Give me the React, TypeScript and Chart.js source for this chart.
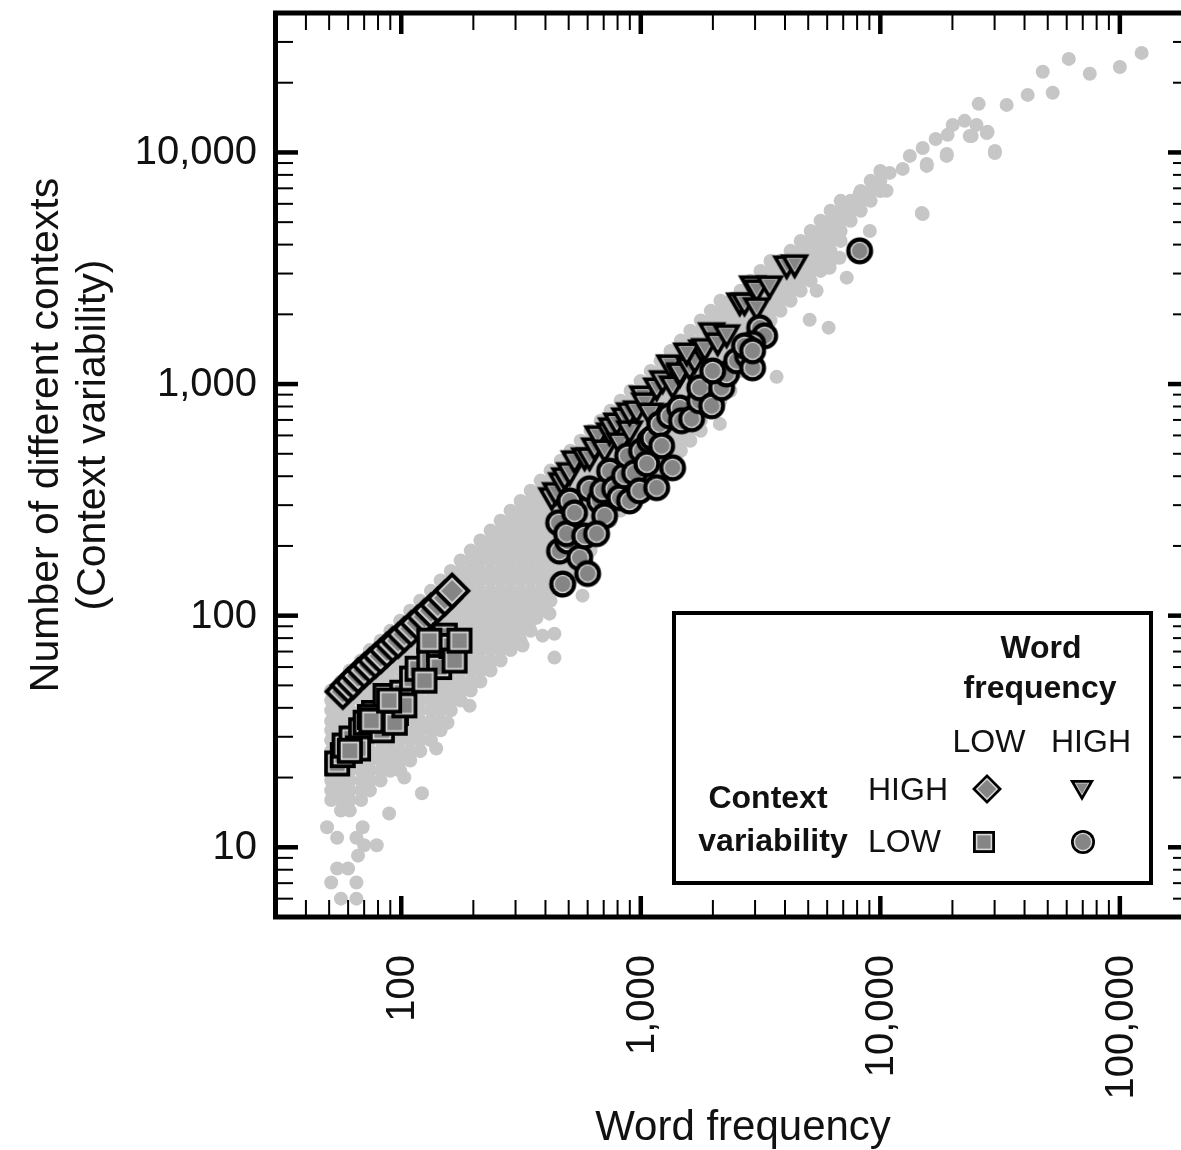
import React, { useEffect, useRef } from 'react';
import { Chart, registerables } from 'chart.js';

Chart.register(...registerables);

// ---------- axes ----------
const xRange = [30, 180000];
const yRange = [5, 40000];
const xMajorTicks = [100, 1000, 10000, 100000];
const xTickLabels = ['100', '1,000', '10,000', '100,000'];
const xMinorTicks = [40, 50, 60, 70, 80, 90, 200, 300, 400, 500, 600, 700, 800, 900, 2000, 3000, 4000, 5000, 6000, 7000, 8000, 9000, 20000, 30000, 40000, 50000, 60000, 70000, 80000, 90000];
const yMajorTicks = [10, 100, 1000, 10000];
const yTickLabels = ['10', '100', '1,000', '10,000'];
const yMinorTicks = [6, 7, 8, 9, 20, 30, 40, 50, 60, 70, 80, 90, 200, 300, 400, 500, 600, 700, 800, 900, 2000, 3000, 4000, 5000, 6000, 7000, 8000, 9000, 20000, 30000];
const xAxisTitle = 'Word frequency';
const yAxisTitleLines = ['Number of different contexts', '(Context variability)'];

// ---------- legend texts ----------
const legendHeader = ['Word', 'frequency'];
const legendColumns = ['LOW', 'HIGH'];
const legendRowTitle = ['Context', 'variability'];
const legendRows = ['HIGH', 'LOW'];

// ---------- featured words ----------
// HIGH context variability, LOW word frequency (diamonds)
const hcLowX = [57, 60, 63, 66, 70, 74, 78, 82, 87, 92, 97, 103, 110, 117, 125, 133, 142, 152, 163];
const hcLowY = [47, 50, 52, 55, 58, 61, 64, 67, 71, 75, 78, 83, 88, 93, 99, 105, 111, 119, 128];
// LOW context variability, LOW word frequency (squares)
const lcLowX = [54, 57, 58, 62, 68, 71, 77, 83, 86, 95, 101, 111, 117, 131, 144, 152, 164, 144, 162, 94, 103, 74, 66, 131, 61, 75, 89, 125, 167, 175];
const lcLowY = [23, 25, 27.5, 29.5, 32, 34.5, 38, 32, 45, 38, 46.5, 53.5, 59, 64, 72, 82, 67, 60, 74, 34.5, 41, 36.5, 26.7, 78, 26.1, 35.2, 43, 52.4, 64, 78];
// HIGH context variability, HIGH word frequency (triangles)
const hcHighX = [425, 441, 467, 481, 505, 529, 583, 611, 641, 661, 706, 741, 755, 793, 817, 857, 898, 898, 960, 1018, 1038, 1090, 1165, 1233, 1358, 1320, 1453, 1455, 1600, 1678, 1795, 1554, 1850, 1976, 2094, 2282, 2588, 2710, 2930, 3045, 3450, 3045, 4064, 4390];
const hcHighY = [330, 347, 383, 402, 423, 476, 490, 490, 541, 610, 530, 628, 661, 693, 569, 729, 641, 767, 782, 906, 847, 765, 981, 1055, 1000, 1235, 1119, 1141, 1199, 1285, 1432, 1390, 1452, 1700, 1537, 1666, 2287, 2287, 2710, 2603, 2708, 2179, 3305, 3338];
// LOW context variability, HIGH word frequency (circles)
const lcHighX = [454, 458, 472, 495, 490, 505, 556, 583, 600, 529, 611, 673, 693, 706, 654, 741, 778, 817, 855, 881, 898, 942, 988, 1007, 1060, 1089, 1122, 1200, 1222, 1358, 1165, 1319, 1455, 1479, 1630, 1758, 1762, 1976, 2175, 2282, 2512, 2792, 2930, 1995, 3135, 3289, 2930, 2710, 2930, 8200];
const lcHighY = [252, 190, 137, 210, 226, 313, 178, 221, 152, 278, 353, 313, 347, 270, 226, 421, 353, 323, 402, 490, 313, 414, 346, 515, 453, 569, 585, 673, 541, 435, 357, 729, 789, 694, 708, 847, 964, 805, 964, 1106, 1260, 1325, 1175, 1140, 1750, 1616, 1493, 1462, 1392, 3760];

// ---------- all other words (grey cloud) ----------
const cloudColumns: [number, number[]][] = [
  [51, [47.5, 43, 39, 35, 32, 29, 26, 23.7, 21.4, 19.4, 17.6, 16]],
  [56, [52, 47.5, 43, 39, 35, 32, 29, 26, 23.7, 21.4, 19.4, 17.6, 16, 14.4]],
  [61, [58, 52, 47.5, 43, 39, 35, 32, 29, 26, 23.7, 21.4, 19.4, 17.6, 16, 14.4]],
  [68, [64, 58, 52, 47.5, 43, 39, 35, 32, 29, 26, 23.7, 21.4, 19.4, 17.6, 16]],
  [74, [71, 64, 58, 52, 47.5, 43, 39, 35, 32, 29, 26, 23.7, 21.4, 19.4, 17.6]],
  [82, [78, 71, 64, 58, 52, 47.5, 43, 39, 35, 32, 29, 26, 23.7, 21.4, 19.4]],
  [90, [86, 78, 71, 64, 58, 52, 47.5, 43, 39, 35, 32, 29, 26, 23.7, 21.4]],
  [99, [95, 86, 78, 71, 64, 58, 52, 47.5, 43, 39, 35, 32, 29, 26, 23.7, 21.4]],
  [109, [105, 95, 86, 78, 71, 64, 58, 52, 47.5, 43, 39, 35, 32, 29, 26, 23.7]],
  [120, [116, 105, 95, 86, 78, 71, 64, 58, 52, 47.5, 43, 39, 35, 32, 29, 26]],
  [133, [128, 116, 105, 95, 86, 78, 71, 64, 58, 52, 47.5, 43, 39, 35, 32, 29]],
  [146, [142, 128, 116, 105, 95, 86, 78, 71, 64, 58, 52, 47.5, 43, 39, 35, 32]],
  [161, [156, 142, 128, 116, 105, 95, 86, 78, 71, 64, 58, 52, 47.5, 43, 39]],
  [177, [173, 156, 142, 128, 116, 105, 95, 86, 78, 71, 64, 58, 52, 47.5, 43]],
  [195, [191, 173, 156, 142, 128, 116, 105, 95, 86, 78, 71, 64, 58, 52, 47.5]],
  [214, [211, 191, 173, 156, 142, 128, 116, 105, 95, 86, 78, 71, 64, 58, 52]],
  [236, [233, 211, 191, 173, 156, 142, 128, 116, 105, 95, 86, 78, 71, 64, 58]],
  [260, [257, 233, 211, 191, 173, 156, 142, 128, 116, 105, 95, 86, 78, 71, 64]],
  [286, [284, 257, 233, 211, 191, 173, 156, 142, 128, 116, 105, 95, 86, 78, 71]],
  [315, [313, 284, 257, 233, 211, 191, 173, 156, 142, 128, 116, 105, 95, 86, 78]],
  [347, [346, 313, 284, 257, 233, 211, 191, 173, 156, 142, 128, 116, 105, 95, 86]],
  [382, [383, 346, 313, 284, 257, 233, 211, 191, 173, 156, 142, 128, 116, 105]],
  [420, [423, 383, 346, 313, 284, 257, 233, 211, 191, 173, 156, 142, 128, 116]],
  [463, [467, 423, 383, 346, 313, 284, 257, 233, 211, 191, 173, 156, 142, 128]],
  [509, [515, 467, 423, 383, 346, 313, 284, 257, 233, 211, 191, 173, 156, 142]],
  [561, [569, 515, 467, 423, 383, 346, 313, 284, 257, 233, 211, 191, 173]],
  [617, [629, 569, 515, 467, 423, 383, 346, 313, 284, 257, 233, 211, 191]],
  [680, [694, 629, 569, 515, 467, 423, 383, 346, 313, 284, 257, 233]],
  [748, [767, 694, 629, 569, 515, 467, 423, 383, 346, 313, 284, 257]],
  [824, [847, 767, 694, 629, 569, 515, 467, 423, 383, 346, 313, 284]],
  [907, [935, 847, 767, 694, 629, 569, 515, 467, 423, 383, 346, 313]],
  [998, [1030, 935, 847, 767, 694, 629, 569, 515, 467, 423, 383, 346]],
  [1100, [1140, 1030, 935, 847, 767, 694, 629, 569, 515, 467, 423, 383]],
  [1210, [1260, 1140, 1030, 935, 847, 767, 694, 629, 569, 515, 467, 423]],
  [1330, [1390, 1260, 1140, 1030, 935, 847, 767, 694, 629, 569, 515, 467]],
  [1470, [1540, 1390, 1260, 1140, 1030, 935, 847, 767, 694, 629, 569, 515]],
  [1610, [1700, 1540, 1390, 1260, 1140, 1030, 935, 847, 767, 694, 629, 569]],
  [1780, [1880, 1700, 1540, 1390, 1260, 1140, 1030, 935, 847, 767, 694, 629]],
  [1960, [2070, 1880, 1700, 1540, 1390, 1260, 1140, 1030, 935, 847, 767]],
  [2150, [2290, 2070, 1880, 1700, 1540, 1390, 1260, 1140, 1030, 935, 847]],
  [2370, [2290, 2070, 1880, 1700, 1540, 1390, 1260, 1140, 1030, 935]],
  [2610, [2530, 2290, 2070, 1880, 1700, 1540, 1390, 1260, 1140]],
  [2870, [2790, 2530, 2290, 2070, 1880, 1700, 1540, 1390]],
  [3160, [3080, 2790, 2530, 2290, 2070, 1880, 1700, 1540]],
  [3480, [3400, 3080, 2790, 2530, 2290, 2070, 1880]],
  [3830, [3400, 3080, 2790, 2530, 2290, 2070]],
  [4220, [3760, 3400, 3080, 2790, 2530, 2290]],
  [4650, [4150, 3760, 3400, 3080, 2790, 2530]],
  [5120, [4580, 4150, 3760, 3400, 3080, 2790]],
  [5630, [5070, 4580, 4150, 3760, 3400, 3080]],
  [6200, [5600, 5070, 4580, 4150, 3760, 3400]],
  [6830, [6180, 5600, 5070, 4580, 4150]],
  [7520, [6180, 5600, 5070]],
  [8280, [6820, 6180, 5600]],
  [9110, [7540, 6820, 6180]],
  [10000, [8320, 7540, 6820]],
];
const cloudExtraX = [49, 54, 54, 60, 51, 65, 56, 65, 69, 65, 70, 79, 66, 89, 122, 103, 140, 156, 193,
  436, 389, 436, 416, 571, 321, 367, 404,
  2138, 3690, 5070, 6084, 7240, 9040, 15030, 15630, 18950, 30090, 27830, 23620,
  123300, 100000, 74900, 61200, 47650, 52440, 41230, 33680, 25740, 22490, 25220, 20050, 19100, 24060, 28070, 30070,
  18920, 17020, 15030, 15630, 13280, 12400, 10940, 10620, 9290, 8200, 7670, 14890, 6960, 6320, 5580, 5070, 4610,
  5420, 6140, 6760, 4740, 5420];
const cloudExtraY = [12.2, 11, 8.1, 8.1, 7.05, 7.05, 6, 6, 12.2, 11, 10.2, 10.2, 9.2, 14, 17.1, 20, 26.7, 34.5, 40.8,
  65.9, 82, 83.6, 102, 122, 74.3, 98, 113,
  673, 1074, 1895, 1752, 2880, 4580, 5420, 8910, 9840, 10140, 12130, 11780,
  26900, 23400, 21850, 25350, 22290, 18090, 17720, 16040, 16210, 13690, 13150, 13150, 11910, 11780, 12270, 9950,
  9660, 11430, 10450, 8750, 9660, 8490, 8160, 6830, 7390, 6640, 6010, 5480, 5430, 5220, 4450, 4150, 3760,
  3410, 3180, 3510, 2880, 2530];

const FONT = "'Liberation Sans', Arial, Helvetica, sans-serif";

type Shape = 'circle' | 'square' | 'diamond' | 'triangle';
const plotMarkerLayers: Record<Shape, number[]> = {
  circle: [13.5, 9.3, 7.9],
  square: [13, 9.2, 7.5],
  diamond: [19, 13.5, 11],
  triangle: [17, 9.5, 7.8],
};
const legendMarkerLayers: Record<Shape, number[]> = {
  circle: [12, 9.3, 7.9],
  square: [11, 8.2, 6.6],
  diamond: [15, 11.2, 9.2],
  triangle: [14, 8.5, 7],
};
const markerColors = ['#000000', '#d8d8d8', '#858585'];

function shapePath(g: CanvasRenderingContext2D, shape: Shape, s: number) {
  g.beginPath();
  if (shape === 'circle') g.arc(0, 0, s, 0, Math.PI * 2);
  else if (shape === 'square') g.rect(-s, -s, 2 * s, 2 * s);
  else if (shape === 'diamond') {
    g.moveTo(0, -s); g.lineTo(s, 0); g.lineTo(0, s); g.lineTo(-s, 0); g.closePath();
  } else {
    g.moveTo(-s * 0.866, -s * 0.5); g.lineTo(s * 0.866, -s * 0.5); g.lineTo(0, s); g.closePath();
  }
}

function makeMarker(shape: Shape, layers: Record<Shape, number[]>): HTMLCanvasElement {
  const c = document.createElement('canvas');
  c.width = 42; c.height = 42;
  const g = c.getContext('2d')!;
  g.translate(21, 21);
  layers[shape].forEach((s, i) => {
    g.fillStyle = markerColors[i];
    shapePath(g, shape, s);
    g.fill();
  });
  return c;
}

const zip = (xs: number[], ys: number[]) => xs.map((x, i) => ({ x, y: ys[i] }));

export default function App() {
  const ref = useRef<HTMLCanvasElement>(null);
  useEffect(() => {
    if (!ref.current) return;
    const mk = {
      circle: makeMarker('circle', plotMarkerLayers),
      square: makeMarker('square', plotMarkerLayers),
      diamond: makeMarker('diamond', plotMarkerLayers),
      triangle: makeMarker('triangle', plotMarkerLayers),
    };
    const lg = {
      circle: makeMarker('circle', legendMarkerLayers),
      square: makeMarker('square', legendMarkerLayers),
      diamond: makeMarker('diamond', legendMarkerLayers),
      triangle: makeMarker('triangle', legendMarkerLayers),
    };
    const cloud = cloudColumns
      .flatMap(([x, ys]) => ys.map((y) => ({ x, y })))
      .concat(zip(cloudExtraX, cloudExtraY));

    const chrome = {
      id: 'chrome',
      afterDatasetsDraw(chart: any) {
        const { ctx, chartArea: a } = chart;
        const xs = chart.scales.x;
        const ys = chart.scales.y;
        const right = a.right + 9;
        ctx.save();
        ctx.strokeStyle = '#000';
        ctx.fillStyle = '#000';
        ctx.lineCap = 'butt';
        const seg = (x1: number, y1: number, x2: number, y2: number, w: number) => {
          ctx.lineWidth = w;
          ctx.beginPath(); ctx.moveTo(x1, y1); ctx.lineTo(x2, y2); ctx.stroke();
        };

        // legend box
        ctx.fillStyle = '#fff';
        ctx.fillRect(674, 613, 477, 270);
        ctx.lineWidth = 4;
        ctx.strokeRect(674, 613, 477, 270);
        ctx.fillStyle = '#111';
        ctx.textBaseline = 'alphabetic';
        ctx.font = `bold 32px ${FONT}`;
        ctx.textAlign = 'center';
        ctx.fillText(legendHeader[0], 1041, 658);
        ctx.fillText(legendHeader[1], 1040, 698);
        ctx.fillText(legendRowTitle[0], 768, 808);
        ctx.fillText(legendRowTitle[1], 773, 851);
        ctx.font = `32px ${FONT}`;
        ctx.fillText(legendColumns[0], 989, 752);
        ctx.fillText(legendColumns[1], 1091, 752);
        ctx.textAlign = 'left';
        ctx.fillText(legendRows[0], 868, 800);
        ctx.fillText(legendRows[1], 868, 852);
        const put = (c: HTMLCanvasElement, cx: number, cy: number) => ctx.drawImage(c, cx - c.width / 2, cy - c.height / 2);
        put(lg.diamond, 987, 789);
        put(lg.triangle, 1082, 787);
        put(lg.square, 984, 842);
        put(lg.circle, 1083, 842);

        // ticks (inward, all four sides)
        xMinorTicks.forEach((v) => {
          const p = xs.getPixelForValue(v);
          seg(p, a.bottom, p, a.bottom - 17, 2);
          seg(p, a.top, p, a.top + 17, 2);
        });
        xMajorTicks.forEach((v) => {
          const p = xs.getPixelForValue(v);
          seg(p, a.bottom, p, a.bottom - 21, 4.5);
          seg(p, a.top, p, a.top + 21, 4.5);
        });
        yMinorTicks.forEach((v) => {
          const p = ys.getPixelForValue(v);
          seg(a.left, p, a.left + 17, p, 2);
          seg(right, p, right - 17, p, 2);
        });
        yMajorTicks.forEach((v) => {
          const p = ys.getPixelForValue(v);
          seg(a.left, p, a.left + 22, p, 4.5);
          seg(right, p, right - 22, p, 4.5);
        });

        // frame
        ctx.lineWidth = 5;
        ctx.strokeRect(a.left - 0.5, a.top, right - a.left, a.bottom - a.top);

        // tick labels
        ctx.fillStyle = '#111';
        ctx.font = `40px ${FONT}`;
        ctx.textAlign = 'right';
        ctx.textBaseline = 'middle';
        yMajorTicks.forEach((v, i) => {
          ctx.fillText(yTickLabels[i], 257, ys.getPixelForValue(v) + 1);
        });
        xMajorTicks.forEach((v, i) => {
          ctx.save();
          ctx.translate(xs.getPixelForValue(v) + 2, 955);
          ctx.rotate(-Math.PI / 2);
          ctx.fillText(xTickLabels[i], 0, 0);
          ctx.restore();
        });

        // axis titles
        ctx.font = `42px ${FONT}`;
        ctx.textAlign = 'center';
        ctx.textBaseline = 'alphabetic';
        ctx.fillText(xAxisTitle, 743, 1140);
        ctx.font = `41px ${FONT}`;
        [58, 105].forEach((bx, i) => {
          ctx.save();
          ctx.translate(bx, 435);
          ctx.rotate(-Math.PI / 2);
          ctx.fillText(yAxisTitleLines[i], 0, 0);
          ctx.restore();
        });
        ctx.restore();
      },
    };

    const chart = new Chart(ref.current, {
      type: 'scatter',
      data: {
        datasets: [
          { label: 'other', order: 10, data: cloud, pointRadius: 7, pointBackgroundColor: '#c6c6c6', pointBorderWidth: 0, pointStyle: 'circle' },
          { label: 'HIGH CV / LOW WF', order: 4, data: zip(hcLowX, hcLowY), pointRadius: 10, pointStyle: mk.diamond },
          { label: 'LOW CV / LOW WF', order: 3, data: zip(lcLowX, lcLowY), pointRadius: 10, pointStyle: mk.square },
          { label: 'HIGH CV / HIGH WF', order: 2, data: zip(hcHighX, hcHighY), pointRadius: 10, pointStyle: mk.triangle },
          { label: 'LOW CV / HIGH WF', order: 1, data: zip(lcHighX, lcHighY), pointRadius: 10, pointStyle: mk.circle },
        ] as any,
      },
      options: {
        animation: false,
        responsive: false,
        events: [],
        layout: { autoPadding: false, padding: { left: 276, top: 13, right: 0, bottom: 233 } },
        plugins: { legend: { display: false }, tooltip: { enabled: false } },
        scales: {
          x: { type: 'logarithmic', min: xRange[0], max: xRange[1], display: false },
          y: { type: 'logarithmic', min: yRange[0], max: yRange[1], display: false },
        },
      },
      plugins: [chrome],
    });
    return () => chart.destroy();
  }, []);

  return (
    <div style={{ position: 'absolute', left: 0, top: 0, width: 1181, height: 1150, overflow: 'hidden', background: '#fff' }}>
      <canvas ref={ref} width={1181} height={1150} style={{ display: 'block', width: 1181, height: 1150 }} />
    </div>
  );
}
